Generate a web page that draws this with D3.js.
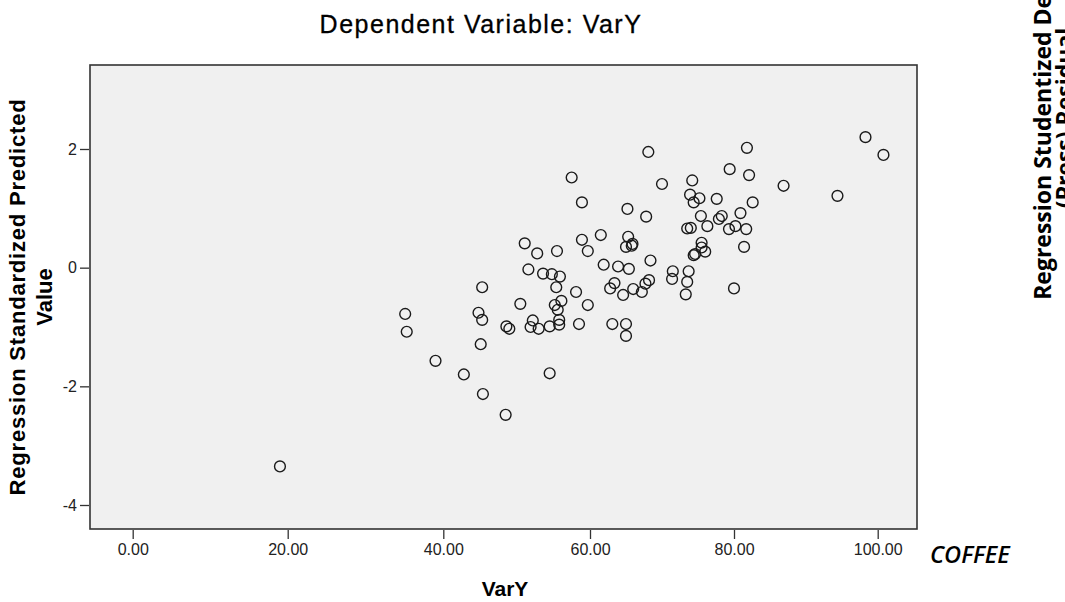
<!DOCTYPE html>
<html>
<head>
<meta charset="utf-8">
<script src="https://cdn.jsdelivr.net/npm/d3@7/dist/d3.min.js"></script>
<style>
  body { margin: 0; background: #fff; }
  svg text { font-family: "Liberation Sans", Arial, sans-serif; }
</style>
</head>
<body>
<div id="chart"></div>
<script>
// observed values (VarY vs standardized predicted value)
var varY = [98.3, 100.8, 81.8, 68.1, 79.4, 82.1, 57.5, 86.9, 94.4, 70.0,
  74.2, 73.9, 75.2, 74.4, 77.6, 82.6, 58.9, 65.2, 67.8, 75.4,
  78.3, 77.9, 80.9, 76.3, 73.5, 74.0, 79.3, 80.2, 81.7, 61.5,
  58.9, 59.7, 65.3, 65.9, 65.0, 65.8, 51.1, 52.8, 55.5, 75.5,
  75.5, 74.6, 74.4, 76.0, 81.4, 68.4, 61.9, 63.9, 65.4, 51.6,
  53.6, 54.8, 55.9, 55.4, 58.1, 63.4, 62.8, 66.0, 64.6, 67.2,
  68.2, 67.7, 71.5, 71.4, 73.7, 73.5, 73.3, 80.0, 50.5, 59.7,
  55.2, 56.1, 55.6, 52.2, 55.8, 55.8, 48.6, 49.0, 51.9, 53.0,
  54.5, 58.5, 63.1, 65.0, 65.0, 45.3, 35.1, 35.3, 44.8, 45.3,
  45.1, 39.0, 42.8, 45.4, 48.5, 54.5, 19.0];
var predicted = [2.20, 1.90, 2.02, 1.95, 1.66, 1.56, 1.52, 1.38, 1.21, 1.41,
  1.47, 1.23, 1.17, 1.10, 1.16, 1.10, 1.10, 0.99, 0.86, 0.87,
  0.87, 0.82, 0.92, 0.70, 0.66, 0.67, 0.65, 0.70, 0.65, 0.55,
  0.47, 0.28, 0.52, 0.40, 0.35, 0.37, 0.41, 0.24, 0.28, 0.42,
  0.34, 0.23, 0.21, 0.27, 0.35, 0.12, 0.05, 0.02, -0.02, -0.03,
  -0.10, -0.11, -0.15, -0.33, -0.41, -0.26, -0.35, -0.36, -0.46, -0.41,
  -0.21, -0.27, -0.06, -0.19, -0.06, -0.24, -0.45, -0.35, -0.61, -0.63,
  -0.63, -0.56, -0.71, -0.89, -0.88, -0.96, -0.99, -1.03, -1.00, -1.03,
  -0.99, -0.95, -0.95, -0.95, -1.15, -0.33, -0.78, -1.08, -0.76, -0.88,
  -1.29, -1.57, -1.80, -2.13, -2.48, -1.78, -3.35];
var xTicks = [0, 20, 40, 60, 80, 100];
var yTicks = [-4, -2, 0, 2];

var width = 1065, height = 602;
var frame = {left: 90, top: 65, right: 917, bottom: 529};

var svg = d3.select("#chart").append("svg")
    .attr("width", width)
    .attr("height", height);

// the axis in the picture is not evenly spaced, so use a polylinear scale
var xScale = d3.scaleLinear()
    .domain(xTicks)
    .range([132.7, 287.7, 443.3, 590, 734, 877.7]);
var yScale = d3.scaleLinear().domain([-4, 2]).range([505, 149]);

svg.append("rect")
    .attr("x", frame.left)
    .attr("y", frame.top)
    .attr("width", frame.right - frame.left)
    .attr("height", frame.bottom - frame.top)
    .style("fill", "#f0f0f0")
    .style("stroke", "#333")
    .style("stroke-width", 1.6);

var xAxis = d3.axisBottom(xScale).tickValues(xTicks).tickSize(9).tickPadding(5)
    .tickFormat(d3.format(".2f"));
var yAxis = d3.axisLeft(yScale).tickValues(yTicks).tickSize(9).tickPadding(3)
    .tickFormat(function(d) { return String(d); });

var gx = svg.append("g")
    .attr("transform", "translate(0," + (frame.bottom + 1) + ")")
    .call(xAxis);
var gy = svg.append("g")
    .attr("transform", "translate(" + (frame.left - 1) + ",0)")
    .call(yAxis);
[gx, gy].forEach(function(g) {
  g.select(".domain").remove();
  g.selectAll(".tick line").style("stroke", "#333").style("stroke-width", 1.3);
  g.selectAll(".tick text").style("font-size", "16px").style("fill", "#222")
    .style("font-family", "'Liberation Sans', Arial, sans-serif");
});

svg.selectAll(".pt")
    .data(varY)
    .enter().append("circle")
    .attr("class", "pt")
    .attr("cx", function(d) { return xScale(d); })
    .attr("cy", function(d, i) { return yScale(predicted[i]); })
    .attr("r", 5.4)
    .style("fill", "none")
    .style("stroke", "#1a1a1a")
    .style("stroke-width", 1.4);

// Titles
svg.append("text")
    .attr("x", 481)
    .attr("y", 33)
    .attr("text-anchor", "middle")
    .style("font-size", "25px")
    .style("letter-spacing", "1.5px")
    .style("stroke", "#000")
    .style("stroke-width", 0.3)
    .text("Dependent Variable: VarY");

svg.append("text")
    .attr("x", 505)
    .attr("y", 596)
    .attr("text-anchor", "middle")
    .style("font-size", "21px")
    .style("font-weight", "bold")
    .text("VarY");

var yt = svg.append("text")
    .attr("transform", "translate(17,297) rotate(-90)")
    .attr("text-anchor", "middle")
    .style("font-size", "22px")
    .style("font-weight", "bold");
yt.append("tspan").attr("x", 0).attr("y", 8).style("letter-spacing", "0.8px")
    .text("Regression Standardized Predicted");
yt.append("tspan").attr("x", 0).attr("y", 35).text("Value");

// clipped label of the neighbouring chart on the right
var rt = svg.append("text")
    .attr("transform", "translate(1043,118) rotate(-90)")
    .attr("text-anchor", "middle")
    .style("font-family", "'Open Sans', sans-serif")
    .style("font-size", "23px")
    .style("font-weight", "bold");
rt.append("tspan").attr("x", 0).attr("y", 8).text("Regression Studentized Deleted");
rt.append("tspan").attr("x", 0).attr("y", 30).text("(Press) Residual");

svg.append("text")
    .attr("x", 930)
    .attr("y", 563)
    .style("font-family", "'Open Sans', sans-serif")
    .style("font-size", "23.5px")
    .style("font-weight", 600)
    .style("font-style", "italic")
    .text("COFFEE");
</script>
</body>
</html>
